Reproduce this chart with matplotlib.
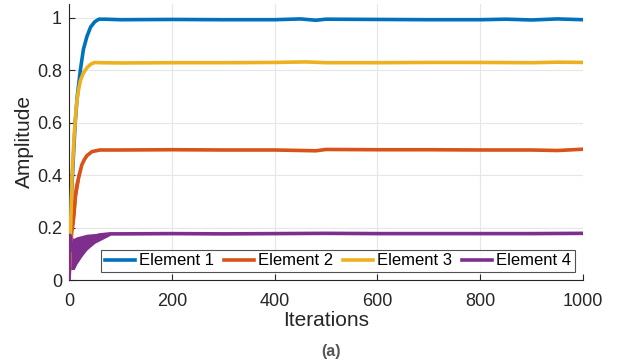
import numpy as np
import matplotlib.pyplot as plt

plt.rcParams['font.family'] = ['Liberation Sans', 'DejaVu Sans']

# 数据
labels = ['Element 1', 'Element 2', 'Element 3', 'Element 4']
colors = ['#0072BD', '#D95319', '#EDB120', '#7E2F8E']

e1_iter = [0, 3, 8, 12, 16, 22, 28, 35, 42, 50, 58, 70, 100, 200, 300, 400, 450, 480, 500, 600, 700, 800, 850, 900, 950, 1000]
e1_amp = [0.0, 0.25, 0.45, 0.6, 0.7, 0.8, 0.88, 0.93, 0.965, 0.985, 0.995, 0.995, 0.993, 0.994, 0.993, 0.993, 0.996, 0.991, 0.995, 0.994, 0.993, 0.993, 0.995, 0.992, 0.996, 0.993]

e2_iter = [0, 3, 6, 8, 10, 12, 15, 20, 25, 30, 35, 45, 60, 100, 200, 300, 400, 480, 500, 600, 700, 800, 900, 950, 1000]
e2_amp = [0.0, 0.12, 0.2, 0.22, 0.26, 0.32, 0.36, 0.4, 0.44, 0.46, 0.475, 0.49, 0.496, 0.496, 0.497, 0.496, 0.496, 0.493, 0.498, 0.497, 0.497, 0.496, 0.496, 0.494, 0.499]

e3_iter = [0, 3, 6, 10, 14, 18, 22, 28, 35, 42, 50, 60, 100, 200, 300, 400, 460, 500, 600, 700, 800, 900, 950, 1000]
e3_amp = [0.0, 0.2, 0.4, 0.55, 0.66, 0.72, 0.76, 0.79, 0.81, 0.823, 0.83, 0.829, 0.828, 0.829, 0.829, 0.83, 0.832, 0.829, 0.829, 0.83, 0.83, 0.829, 0.831, 0.83]

e4_iter = [0, 2, 4, 8, 12, 20, 30, 45, 60, 80, 100, 200, 300, 400, 500, 600, 700, 800, 900, 1000]
e4_amp = [0.0, 0.17, 0.14, 0.11, 0.12, 0.14, 0.155, 0.165, 0.172, 0.176, 0.176, 0.177, 0.176, 0.177, 0.178, 0.177, 0.177, 0.177, 0.177, 0.178]

# Element 4 前期的振荡包络
e4_band_iter = [1, 3, 6, 10, 15, 25, 35, 50, 65, 80]
e4_band_lo = [0.02, 0.04, 0.04, 0.04, 0.06, 0.09, 0.115, 0.14, 0.155, 0.17]
e4_band_hi = [0.19, 0.185, 0.16, 0.16, 0.165, 0.17, 0.175, 0.177, 0.178, 0.178]

# Element 2 前期的振荡包络
e2_band_iter = [4, 6, 9, 12, 15, 20]
e2_band_lo = [0.14, 0.18, 0.2, 0.26, 0.32, 0.38]
e2_band_hi = [0.2, 0.24, 0.3, 0.36, 0.4, 0.43]

series = [(e1_iter, e1_amp), (e2_iter, e2_amp), (e3_iter, e3_amp), (e4_iter, e4_amp)]

fig = plt.figure(figsize=(6.19, 3.62), dpi=100)
ax = fig.add_axes([0.1115, 0.2265, 0.8305, 0.7625])

ax.fill_between(e2_band_iter, e2_band_lo, e2_band_hi, color=colors[1], lw=0, zorder=2)
ax.fill_between(e4_band_iter, e4_band_lo, e4_band_hi, color=colors[3], lw=0, zorder=2)
for (xs, ys), c, lab in zip(series, colors, labels):
    ax.plot(xs, ys, color=c, lw=2.6, label=lab, zorder=3)

ax.set_xlim(0, 1000)
ax.set_ylim(0, 1.053)
ax.set_xticks([0, 200, 400, 600, 800, 1000])
ax.set_yticks([0, 0.2, 0.4, 0.6, 0.8, 1])
ax.set_yticklabels(['0', '0.2', '0.4', '0.6', '0.8', '1'])
ax.tick_params(direction='in', labelsize=13, length=4, width=0.8, colors='#262626')
ax.tick_params(axis='x', pad=9)
ax.tick_params(axis='y', pad=5)
ax.spines['top'].set_visible(False)
ax.spines['right'].set_visible(False)
for s in ['left', 'bottom']:
    ax.spines[s].set_color('#262626')
ax.grid(True, color='#e6e6e6', lw=0.8)
ax.set_axisbelow(True)

ax.set_xlabel('Iterations', fontsize=15, labelpad=1, color='#262626')
ax.set_ylabel('Amplitude', fontsize=15, labelpad=2, color='#262626')

leg = ax.legend(loc='lower right', ncol=4, fontsize=12, frameon=True, fancybox=False,
                edgecolor='#262626', handlelength=1.8, handletextpad=0.25, columnspacing=0.6,
                borderpad=0.2, borderaxespad=0.5)
leg.get_frame().set_linewidth(0.8)

fig.text(0.535, 0.028, '(a)', fontsize=11.5, fontweight='bold', color='#555555',
         ha='center', va='center')

plt.savefig('out.png', dpi=100)
